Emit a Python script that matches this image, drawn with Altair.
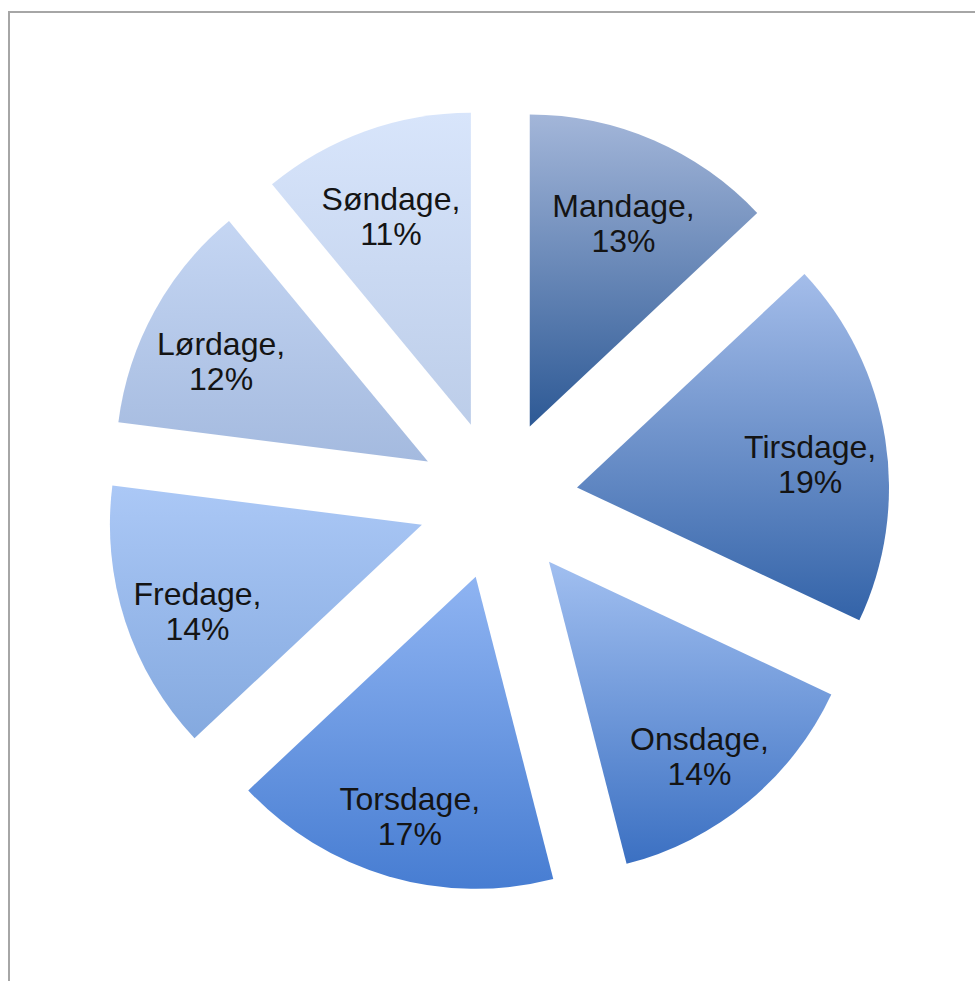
import altair as alt
import pandas as pd

# ---- data ----
days = ["Mandage", "Tirsdage", "Onsdage", "Torsdage", "Fredage", "Lørdage", "Søndage"]
shares = [13, 19, 14, 17, 14, 12, 11]

# ---- styling ----
top_colors = ["#a3b6d9", "#a4bdea", "#a1bff0", "#8fb4f2", "#abc8f6", "#c5d6f3", "#d8e5fb"]
bottom_colors = ["#2d5995", "#3363a8", "#3b70c2", "#477dd2", "#84a9df", "#a4badf", "#bccde9"]

CX, CY = 498, 500      # pie centre (px)
EXPLODE = 80           # explosion distance (px)
R = 312                # slice radius (px)
LABEL_R = 236          # label distance from slice apex (px)

df = pd.DataFrame({"day": days, "share": shares, "order": list(range(len(days)))})

base = (
    alt.Chart(df)
    .transform_window(cum="sum(share)", sort=[alt.SortField("order")], frame=[None, 0])
    .transform_joinaggregate(total="sum(share)")
    .transform_calculate(t0="(datum.cum - datum.share) / datum.total * 2 * PI")
    .transform_calculate(t1="datum.cum / datum.total * 2 * PI")
    .transform_calculate(mid="(datum.t0 + datum.t1) / 2")
    .transform_calculate(px=f"{CX} + {EXPLODE} * sin(datum.mid)")
    .transform_calculate(py=f"{CY} - {EXPLODE} * cos(datum.mid)")
    .transform_calculate(lx=f"datum.px + {LABEL_R} * sin(datum.mid)")
    .transform_calculate(ly=f"datum.py - {LABEL_R} * cos(datum.mid)")
    .transform_calculate(label="datum.day + ',\\n' + datum.share + '%'")
)

arcs = []
for i, d in enumerate(days):
    grad = alt.Gradient(
        gradient="linear",
        stops=[
            alt.GradientStop(color=top_colors[i], offset=0),
            alt.GradientStop(color=bottom_colors[i], offset=1),
        ],
        x1=0, x2=0, y1=0, y2=1,
    )
    arcs.append(
        base.transform_filter(alt.datum.day == d)
        .mark_arc(fill=grad, radius=R)
        .encode(
            x=alt.X("px:Q", scale=None, axis=None),
            y=alt.Y("py:Q", scale=None, axis=None),
            theta=alt.Theta("t0:Q", scale=None),
            theta2=alt.Theta2("t1:Q"),
        )
    )

labels = base.mark_text(
    font="Liberation Sans",
    fontSize=32,
    lineBreak="\n",
    lineHeight=35,
    dy=-3,
    color="#141414",
    align="center",
    baseline="middle",
).encode(
    x=alt.X("lx:Q", scale=None, axis=None),
    y=alt.Y("ly:Q", scale=None, axis=None),
    text="label:N",
)

frame_data = alt.Data(values=[{"k": 1}])
left_rule = alt.Chart(frame_data).mark_rule(color="#a6a6a6", strokeWidth=2).encode(
    x=alt.value(9), y=alt.value(11), y2=alt.value(981)
)
top_rule = alt.Chart(frame_data).mark_rule(color="#a6a6a6", strokeWidth=2).encode(
    x=alt.value(8), x2=alt.value(975), y=alt.value(12)
)

chart = (
    alt.layer(*arcs, labels, left_rule, top_rule)
    .properties(
        width=975,
        height=981,
        autosize=alt.AutoSizeParams(type="none"),
        padding=0,
        background="white",
    )
    .configure_view(stroke=None)
)

chart.save("out.html", embed_options={"renderer": "svg", "actions": False})
